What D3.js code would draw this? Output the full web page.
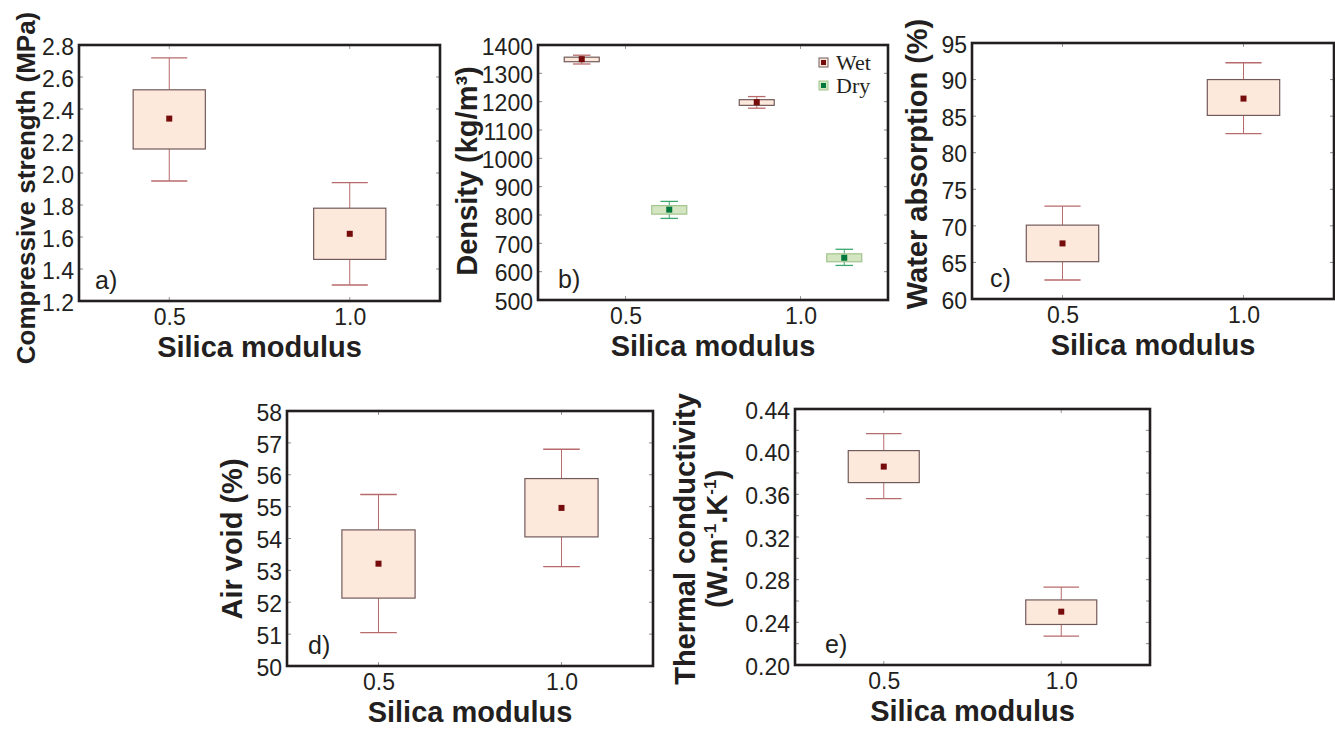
<!DOCTYPE html>
<html>
<head>
<meta charset="utf-8">
<script src="https://cdn.jsdelivr.net/npm/d3@7"></script>
<style>
   body { margin: 0; background: #fff; }
   text { font-family: "Liberation Sans", Arial, sans-serif; fill: #231f20; }
   text.serif { font-family: "Liberation Serif", "Times New Roman", serif; }
</style>
</head>
<body>
<svg id="chart" width="1335" height="729"></svg>
<script>

   // silica modulus, shared by every panel
   var modulus = [0.5, 1.0];

   // one row per modulus: [whisker low, box low, mean, box high, whisker high]
   var strength = [[1.95, 2.15, 2.34, 2.52, 2.72], [1.30, 1.46, 1.62, 1.78, 1.94]];
   var densityWet = [[1333, 1341, 1350, 1357, 1364], [1177, 1187, 1198, 1207, 1218]];
   var densityDry = [[788, 803, 819, 833, 848], [622, 635, 649, 663, 679]];
   var absorption = [[62.6, 65.1, 67.6, 70.1, 72.7], [82.6, 85.1, 87.4, 90.0, 92.3]];
   var airVoid = [[51.05, 52.13, 53.21, 54.27, 55.38], [53.12, 54.05, 54.96, 55.88, 56.8]];
   var conductivity = [[0.356, 0.371, 0.386, 0.401, 0.417], [0.227, 0.238, 0.250, 0.261, 0.273]];

   var seriesNames = ['Wet', 'Dry'];

   // tick labels
   var strengthTicks = [1.2, 1.4, 1.6, 1.8, 2.0, 2.2, 2.4, 2.6, 2.8];
   var densityTicks = [500, 600, 700, 800, 900, 1000, 1100, 1200, 1300, 1400];
   var absorptionTicks = [60, 65, 70, 75, 80, 85, 90, 95];
   var airVoidTicks = [50, 51, 52, 53, 54, 55, 56, 57, 58];
   var conductivityTicks = [0.20, 0.24, 0.28, 0.32, 0.36, 0.40, 0.44];
   var modulusTicks = ['0.5', '1.0'];

   // colours
   var WET = {fill: '#fde9dc', stroke: '#735a5a', whisker: '#b86b6b', mean: '#760b0b'};
   var DRY = {fill: '#d4e6c1', stroke: '#a2c48c', whisker: '#3fa56f', mean: '#00773c'};

   var INK = '#231f20';
   var TITLE_SIZE = 29;
   var TICK_SIZE = 23;

   var svg = d3.select('#chart');

   // panel layout (pixels)
   var panels = [
      {left: 79, right: 440, top: 45, bottom: 301, ticks: strengthTicks, fmt: '.1f', minor: 0.2,
         title: ['Compressive strength (MPa)'], titleX: [35], titleY: 188, titleSize: 26,
         letter: 'a)', letterX: 16,
         series: [{data: strength, offset: 0, box: 0.2, cap: 0.1, col: WET}]},
      {left: 538, right: 888, top: 45, bottom: 300, ticks: densityTicks, fmt: 'd', minor: 100,
         title: ['Density (kg/m\u00b3)'], titleX: [477], titleY: 171, letter: 'b)', letterX: 20,
         series: [{data: densityWet, offset: -0.125, box: 0.1, cap: 0.05, col: WET},
                  {data: densityDry, offset: 0.125, box: 0.1, cap: 0.05, col: DRY}],
         legend: true},
      {left: 972, right: 1334, top: 43, bottom: 299, ticks: absorptionTicks, fmt: 'd', minor: 5,
         title: ['Water absorption (%)'], titleX: [927], titleY: 164, letter: 'c)', letterX: 18,
         series: [{data: absorption, offset: 0, box: 0.2, cap: 0.1, col: WET}]},
      {left: 287, right: 653, top: 411, bottom: 666, ticks: airVoidTicks, fmt: 'd', minor: 1,
         title: ['Air void (%)'], titleX: [242], titleY: 539, letter: 'd)', letterX: 21,
         series: [{data: airVoid, offset: 0, box: 0.2, cap: 0.1, col: WET}]},
      {left: 795, right: 1150, top: 409, bottom: 665, ticks: conductivityTicks, fmt: '.2f', minor: 0.02,
         title: ['Thermal conductivity', 'sup'], titleX: [695, 727], titleY: 539, letter: 'e)', letterX: 30,
         series: [{data: conductivity, offset: 0, box: 0.2, cap: 0.1, col: WET}]}
   ];

   panels.forEach(drawPanel);

   function drawPanel(p){

      var g = svg.append('g');

      var x = d3.scaleLinear().domain([0.25, 1.25]).range([p.left, p.right]);
      var yDomain = [p.ticks[0], p.ticks[p.ticks.length - 1]];
      var y = d3.scaleLinear().domain(yDomain).range([p.bottom, p.top]);

      // small inner ticks on left and right side
      var n = Math.round((yDomain[1] - yDomain[0]) / p.minor);
      var inner = d3.range(1, n).map(function(i){ return yDomain[0] + i * p.minor; });
      inner.forEach(function(v){
         [[p.left, p.left + 4], [p.right - 4, p.right]].forEach(function(s){
            g.append('line')
               .attr('x1', s[0]).attr('x2', s[1])
               .attr('y1', y(v)).attr('y2', y(v))
               .attr('stroke', '#888').attr('stroke-width', 1);
         });
      });
      // inner ticks at the modulus positions, top and bottom
      modulus.forEach(function(m){
         [[p.top, p.top + 4], [p.bottom - 4, p.bottom]].forEach(function(s){
            g.append('line')
               .attr('x1', x(m)).attr('x2', x(m))
               .attr('y1', s[0]).attr('y2', s[1])
               .attr('stroke', '#999').attr('stroke-width', 1);
         });
      });

      // boxes
      p.series.forEach(function(s){
         s.data.forEach(function(d, i){
            var cx = x(modulus[i] + s.offset);
            var hw = (x(s.box) - x(0)) / 2;
            var cw = (x(s.cap) - x(0)) / 2;

            // whiskers
            g.append('line')
               .attr('x1', cx).attr('x2', cx).attr('y1', y(d[0])).attr('y2', y(d[1]))
               .attr('stroke', s.col.whisker).attr('stroke-width', 1);
            g.append('line')
               .attr('x1', cx).attr('x2', cx).attr('y1', y(d[3])).attr('y2', y(d[4]))
               .attr('stroke', s.col.whisker).attr('stroke-width', 1);
            [d[0], d[4]].forEach(function(v){
               g.append('line')
                  .attr('x1', cx - cw).attr('x2', cx + cw).attr('y1', y(v)).attr('y2', y(v))
                  .attr('stroke', s.col.whisker).attr('stroke-width', 1.3);
            });

            g.append('rect')
               .attr('x', cx - hw).attr('y', y(d[3]))
               .attr('width', 2 * hw).attr('height', y(d[1]) - y(d[3]))
               .attr('fill', s.col.fill)
               .attr('stroke', s.col.stroke).attr('stroke-width', 1.2);

            // mean marker
            g.append('rect')
               .attr('x', cx - 3).attr('y', y(d[2]) - 3)
               .attr('width', 6).attr('height', 6)
               .attr('fill', s.col.mean);
         });
      });

      // y tick labels
      var yAxis = g.append('g')
         .attr('transform', 'translate(' + (p.left - 1) + ',0)')
         .call(d3.axisLeft(y).tickValues(p.ticks).tickSize(0).tickPadding(4)
            .tickFormat(d3.format(p.fmt)));
      yAxis.select('.domain').remove();
      yAxis.attr('font-size', TICK_SIZE).attr('font-family', null).attr('color', INK);
      yAxis.selectAll('text').attr('dy', '0.4em');

      // x tick labels
      var xAxis = g.append('g')
         .attr('transform', 'translate(0,' + p.bottom + ')')
         .call(d3.axisBottom(x).tickValues(modulus).tickSize(0).tickPadding(8)
            .tickFormat(function(d, i){ return modulusTicks[i]; }));
      xAxis.select('.domain').remove();
      xAxis.attr('font-size', TICK_SIZE).attr('font-family', null).attr('color', INK);

      // frame
      g.append('rect')
         .attr('x', p.left).attr('y', p.top)
         .attr('width', p.right - p.left).attr('height', p.bottom - p.top)
         .attr('fill', 'none').attr('stroke', INK).attr('stroke-width', 2.6);

      // panel letter
      g.append('text')
         .attr('x', p.left + p.letterX).attr('y', p.bottom - 12)
         .attr('font-size', 25)
         .text(p.letter);

      // axis titles
      g.append('text')
         .attr('x', (p.left + p.right) / 2).attr('y', p.bottom + 56)
         .attr('text-anchor', 'middle')
         .attr('font-size', TITLE_SIZE).attr('font-weight', 'bold')
         .text('Silica modulus');

      g.append('text')
         .attr('transform', 'translate(' + p.titleX[0] + ',' + p.titleY + ') rotate(-90)')
         .attr('text-anchor', 'middle')
         .attr('font-size', p.titleSize || TITLE_SIZE).attr('font-weight', 'bold')
         .text(p.title[0]);

      if(p.title[1] == 'sup'){
         var t2 = g.append('text')
            .attr('transform', 'translate(' + p.titleX[1] + ',' + p.titleY + ') rotate(-90)')
            .attr('text-anchor', 'middle')
            .attr('font-size', TITLE_SIZE).attr('font-weight', 'bold');
         t2.append('tspan').text('(W.m');
         t2.append('tspan').attr('dy', -11).attr('font-size', 17).text('-1');
         t2.append('tspan').attr('dy', 11).text('.K');
         t2.append('tspan').attr('dy', -11).attr('font-size', 17).text('-1');
         t2.append('tspan').attr('dy', 11).text(')');
      }

      if(p.legend){
         var cols = [WET, DRY];
         seriesNames.forEach(function(name, i){
            var ly = 63 + i * 23;
            g.append('rect')
               .attr('x', 819).attr('y', ly - 5)
               .attr('width', 9).attr('height', 9)
               .attr('fill', cols[i].fill).attr('stroke', cols[i].stroke).attr('stroke-width', 1);
            g.append('rect')
               .attr('x', 821).attr('y', ly - 3)
               .attr('width', 5).attr('height', 5)
               .attr('fill', cols[i].mean);
            g.append('text')
               .attr('class', 'serif')
               .attr('x', 836).attr('y', ly + 7)
               .attr('font-size', 22)
               .text(name);
         });
      }
   }

</script>
</body>
</html>
